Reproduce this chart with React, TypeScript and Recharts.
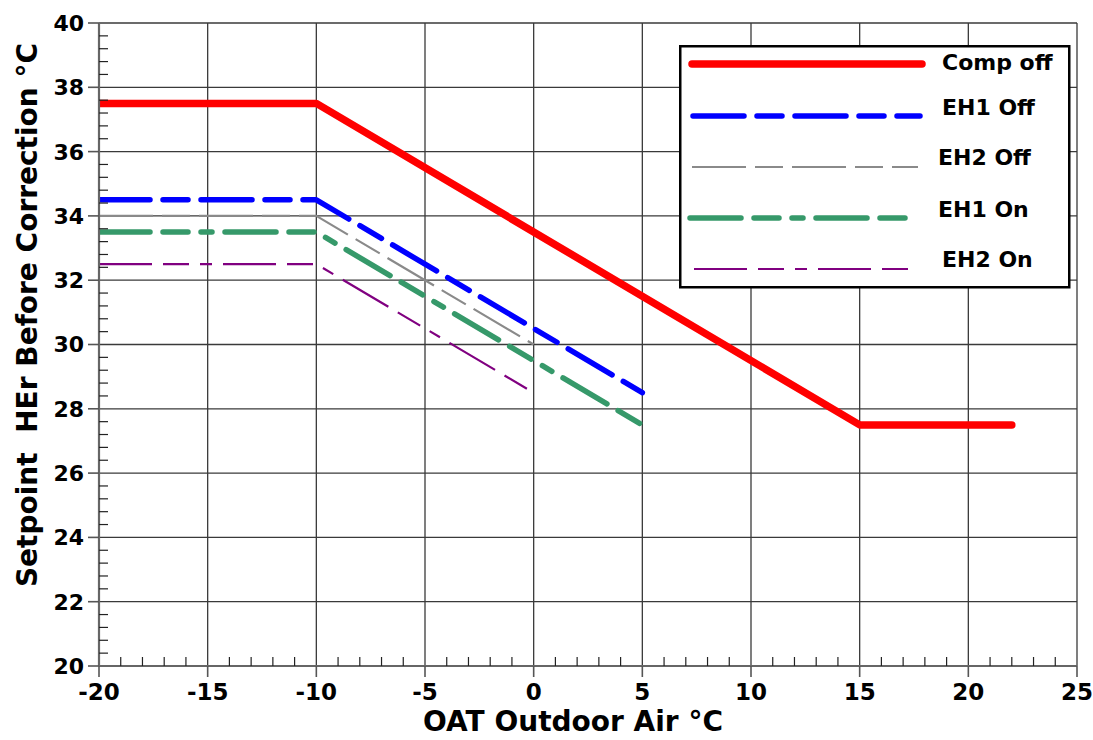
import React from 'react';
import { LineChart, Line, XAxis, YAxis, ReferenceLine, Legend, Label } from 'recharts';

// ---- data ----
const xMajorTicks = [-20, -15, -10, -5, 0, 5, 10, 15, 20, 25];
const yMajorTicks = [20, 22, 24, 26, 28, 30, 32, 34, 36, 38, 40];
const xMinorCount = 46; // every 1 °C from -20 to 25
const yMinorCount = 51; // every 0.4 °C from 20 to 40

const compOff = [
  { x: -20, y: 37.5 },
  { x: -10, y: 37.5 },
  { x: 15, y: 27.5 },
  { x: 22, y: 27.5 },
];
const eh1Off = [
  { x: -20, y: 34.5 },
  { x: -10, y: 34.5 },
  { x: 5, y: 28.5 },
];
const eh2Off = [
  { x: -20, y: 34 },
  { x: -10, y: 34 },
  { x: 0, y: 30 },
];
const eh1On = [
  { x: -20, y: 33.5 },
  { x: -10, y: 33.5 },
  { x: 5, y: 27.5 },
];
const eh2On = [
  { x: -20, y: 32.5 },
  { x: -10, y: 32.5 },
  { x: 0, y: 28.5 },
];

const seriesNames = ['Comp off', 'EH1 Off', 'EH2 Off', 'EH1 On', 'EH2 On'];
const seriesData = [compOff, eh1Off, eh2Off, eh1On, eh2On];

const xTitle = 'OAT Outdoor Air °C';
const yTitle = 'Setpoint  HEr Before Correction °C';

// ---- styles ----
const seriesStyles = [
  { color: '#ff0000', width: 7.5, dash: undefined as string | undefined, cap: 'round' },
  { color: '#0000ff', width: 5.5, dash: '51 13 25 13', cap: 'round' },
  { color: '#8a8a8a', width: 2.2, dash: '54 9 28 9', cap: 'butt' },
  { color: '#36996a', width: 5.5, dash: '51 13 25 13 11 13', cap: 'round' },
  { color: '#800080', width: 2.2, dash: '53 11 26 11 12 11', cap: 'butt' },
];

const FONT = '"DejaVu Sans", Verdana, sans-serif';
const W = 1093;
const H = 740;

const xTicks = Array.from({ length: xMinorCount }, (_, i) => -20 + i);
const yTicks = Array.from({ length: yMinorCount }, (_, i) => +(20 + i * 0.4).toFixed(2));

const isMajor = (v: number, list: number[]) => list.some((t) => Math.abs(t - v) < 1e-6);

const XTick = (props: any) => {
  const { x, y, payload } = props;
  const v = payload.value;
  if (isMajor(v, xMajorTicks)) {
    return (
      <g>
        <line x1={x} x2={x} y1={y} y2={y + 11} stroke="#555" strokeWidth={1.6} />
        <text x={x} y={y + 34} textAnchor="middle" fontFamily={FONT} fontWeight={700} fontSize={23} fill="#000">
          {v}
        </text>
      </g>
    );
  }
  return <line x1={x} x2={x} y1={y} y2={y - 9} stroke="#222" strokeWidth={1.2} />;
};

const YTick = (props: any) => {
  const { x, y, payload } = props;
  const v = payload.value;
  if (isMajor(v, yMajorTicks)) {
    return (
      <g>
        <line x1={x} x2={x - 11} y1={y} y2={y} stroke="#555" strokeWidth={1.6} />
        <text x={x - 15} y={y} dy="0.36em" textAnchor="end" fontFamily={FONT} fontWeight={700} fontSize={22} fill="#000">
          {v}
        </text>
      </g>
    );
  }
  return <line x1={x} x2={x + 9} y1={y} y2={y} stroke="#222" strokeWidth={1.2} />;
};

const legendRows = [
  { ly: 19, lx1: 13, lx2: 243, ty: 17, tx: 263 },
  { ly: 71, lx1: 14, lx2: 241, ty: 62, tx: 263 },
  { ly: 122, lx1: 13, lx2: 239, ty: 112, tx: 259 },
  { ly: 173, lx1: 11, lx2: 232, ty: 164, tx: 259 },
  { ly: 224, lx1: 15, lx2: 232, ty: 214, tx: 263 },
];

const LegendContent = () => (
  <svg width={392} height={244} style={{ display: 'block' }}>
    <rect x={1.25} y={1.25} width={389} height={241} fill="#fff" stroke="#000" strokeWidth={2.5} />
    {seriesNames.map((name, i) => {
      const s = seriesStyles[i];
      const r = legendRows[i];
      return (
        <g key={name}>
          <line
            x1={r.lx1}
            x2={r.lx2}
            y1={r.ly}
            y2={r.ly}
            stroke={s.color}
            strokeWidth={s.width}
            strokeDasharray={s.dash}
            strokeLinecap={s.cap as any}
          />
          <text x={r.tx} y={r.ty} dy="0.36em" fontFamily={FONT} fontWeight={700} fontSize={22} fill="#000">
            {name}
          </text>
        </g>
      );
    })}
  </svg>
);

export default function App() {
  return (
    <div style={{ position: 'absolute', left: 0, top: 0, width: W, height: H, background: '#fff' }}>
      <LineChart width={W} height={H} margin={{ top: 23, right: 16, bottom: 0, left: 0 }}>
        {xMajorTicks.slice(1).map((t) => (
          <ReferenceLine key={'gx' + t} x={t} stroke="#3a3a3a" strokeWidth={1.3} />
        ))}
        {yMajorTicks.slice(1).map((t) => (
          <ReferenceLine key={'gy' + t} y={t} stroke="#3a3a3a" strokeWidth={1.3} />
        ))}
        <XAxis
          type="number"
          dataKey="x"
          domain={[-20, 25]}
          ticks={xTicks}
          interval={0}
          height={74}
          tickSize={0}
          tickMargin={0}
          tickLine={false}
          axisLine={{ stroke: '#666', strokeWidth: 2.2 }}
          tick={<XTick />}
          allowDataOverflow
        >
          <Label
            content={(p: any) => {
              const vb = p.viewBox;
              return (
                <text x={573} y={vb.y + 65} textAnchor="middle" fontFamily={FONT} fontWeight={700} fontSize={28} fill="#000">
                  {xTitle}
                </text>
              );
            }}
          />
        </XAxis>
        <YAxis
          type="number"
          dataKey="y"
          domain={[20, 40]}
          ticks={yTicks}
          interval={0}
          width={99}
          tickSize={0}
          tickMargin={0}
          tickLine={false}
          axisLine={{ stroke: '#666', strokeWidth: 2.2 }}
          tick={<YTick />}
          allowDataOverflow
        >
          <Label
            content={() => (
              <text
                x={37}
                y={315}
                transform="rotate(-90 37 315)"
                textAnchor="middle"
                fontFamily={FONT}
                fontWeight={700}
                fontSize={28}
                fill="#000"
                style={{ whiteSpace: 'pre' }}
              >
                {yTitle}
              </text>
            )}
          />
        </YAxis>
        {seriesNames.map((name, i) => {
          const s = seriesStyles[i];
          return (
            <Line
              key={name}
              name={name}
              data={seriesData[i]}
              dataKey="y"
              type="linear"
              stroke={s.color}
              strokeWidth={s.width}
              strokeDasharray={s.dash}
              strokeLinecap={s.cap as any}
              strokeLinejoin="round"
              dot={false}
              activeDot={false}
              isAnimationActive={false}
            />
          );
        })}
        <Legend
          layout="horizontal"
          verticalAlign="middle"
          align="center"
          content={<LegendContent />}
          wrapperStyle={{ position: 'absolute', left: 679, top: 45, width: 392, height: 244 }}
        />
      </LineChart>
    </div>
  );
}
